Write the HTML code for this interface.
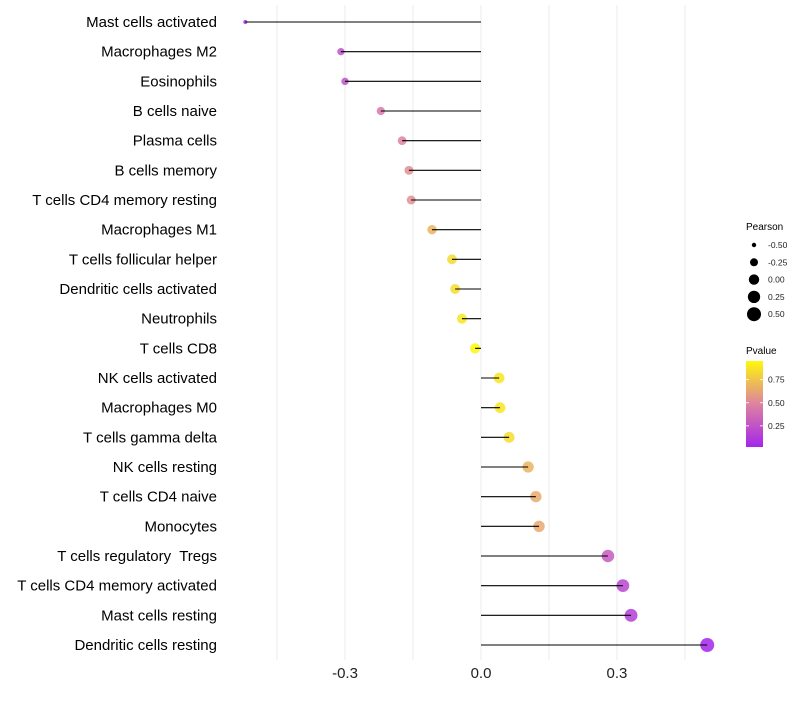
<!DOCTYPE html>
<html><head><meta charset="utf-8"><style>
body{margin:0;background:#fff;font-family:"Liberation Sans",sans-serif}
text{white-space:pre}
</style></head><body>
<svg id="chart" width="800" height="700" xmlns="http://www.w3.org/2000/svg" font-family="Liberation Sans, sans-serif"></svg>
<script>
const categories=["Mast cells activated","Macrophages M2","Eosinophils","B cells naive","Plasma cells","B cells memory","T cells CD4 memory resting","Macrophages M1","T cells follicular helper","Dendritic cells activated","Neutrophils","T cells CD8","NK cells activated","Macrophages M0","T cells gamma delta","NK cells resting","T cells CD4 naive","Monocytes","T cells regulatory  Tregs","T cells CD4 memory activated","Mast cells resting","Dendritic cells resting"];
const pearson=[-0.52,-0.309,-0.30,-0.221,-0.174,-0.159,-0.154,-0.108,-0.064,-0.057,-0.042,-0.013,0.040,0.042,0.062,0.104,0.121,0.128,0.280,0.313,0.331,0.499];
const pvalue=[0.05,0.25,0.26,0.45,0.5,0.55,0.55,0.7,0.85,0.86,0.9,0.97,0.9,0.9,0.86,0.7,0.66,0.65,0.3,0.2,0.15,0.03];
const xTicks=[-0.3,0.0,0.3];
const xGrid=[-0.45,-0.3,-0.15,0,0.15,0.3,0.45];
const sizeLegend=[-0.5,-0.25,0,0.25,0.5];
const colorLegendTicks=[0.75,0.5,0.25];
const NS="http://www.w3.org/2000/svg";
const svg=document.getElementById('chart');
function el(t,a,p){const e=document.createElementNS(NS,t);for(const k in a)e.setAttribute(k,a[k]);(p||svg).appendChild(e);return e;}
const x=v=>481+v*453.3;
const y=i=>22+i*(623/21);
const rmin=2,rmax=7;
const r=v=>Math.sqrt(rmin*rmin+(v+0.52)/1.02*(rmax*rmax-rmin*rmin));
function col(p){
 const stops=[[0,[160,32,240]],[0.5,[222,130,160]],[1,[255,255,0]]];
 p=Math.max(0,Math.min(1,p));
 let a=stops[0],b=stops[1];if(p>0.5){a=stops[1];b=stops[2];}
 const t=(p-a[0])/(b[0]-a[0]);
 const c=a[1].map((v,k)=>Math.round(v+(b[1][k]-v)*t));
 return `rgb(${c[0]},${c[1]},${c[2]})`;
}
xGrid.forEach(g=>{const l=el('line',{x1:x(g),x2:x(g),y1:5,y2:660,stroke:'#ebebeb','stroke-width':1});
});
categories.forEach((c,i)=>{
 const t=el('text',{x:217,y:y(i)+5,'text-anchor':'end','font-size':15,fill:'#000'});t.textContent=c;
 
 const d=el('circle',{cx:x(pearson[i]),cy:y(i),r:r(pearson[i]),fill:col(pvalue[i]),'fill-opacity':0.85});
 
 const l=el('line',{x1:x(0),x2:x(pearson[i]),y1:y(i),y2:y(i),stroke:'#000','stroke-width':1.1});
 
});
xTicks.forEach(v=>{const t=el('text',{x:x(v),y:678,'text-anchor':'middle','font-size':15,fill:'#222'});t.textContent=v.toFixed(1);
});
const pt=el('text',{x:746,y:230,'font-size':10,fill:'#000'});pt.textContent='Pearson';

sizeLegend.forEach((v,i)=>{const cy=245+i*17.3;
 const c=el('circle',{cx:754,cy:cy,r:r(v),fill:'#000'});
 const t=el('text',{x:768,y:cy+3,'font-size':8.5,fill:'#222'});t.textContent=v.toFixed(2);
 });
const ct=el('text',{x:746,y:354,'font-size':10,fill:'#000'});ct.textContent='Pvalue';

const defs=el('defs',{});const lg=el('linearGradient',{id:'pg',x1:0,y1:1,x2:0,y2:0},defs);
[[0,0.03],[0.5,0.5],[1,0.97]].forEach(s=>el('stop',{offset:s[0],'stop-color':col(s[1])},lg));
const bar=el('rect',{x:746,y:361,width:17,height:86,fill:'url(#pg)'});

const py=p=>449-p*92.5;
colorLegendTicks.forEach(v=>{
 el('line',{x1:746,x2:749,y1:py(v),y2:py(v),stroke:'#fff','stroke-width':0.8});
 el('line',{x1:760,x2:763,y1:py(v),y2:py(v),stroke:'#fff','stroke-width':0.8});
 const t=el('text',{x:768,y:py(v)+3,'font-size':8.5,fill:'#222'});t.textContent=v.toFixed(2);
 });
</script>
</body></html>
